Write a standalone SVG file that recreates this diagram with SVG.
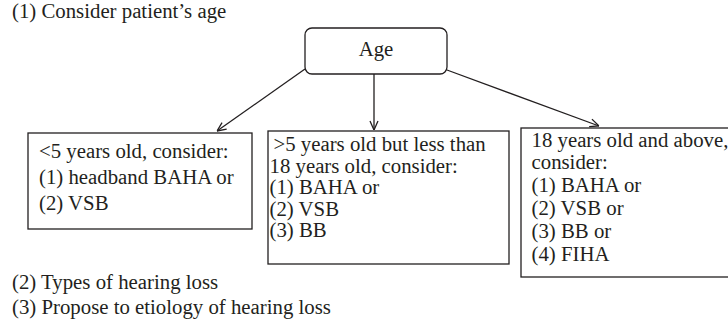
<svg xmlns="http://www.w3.org/2000/svg" width="728" height="325" viewBox="0 0 728 325">
<style>
text{font-family:"Liberation Serif","Times New Roman",serif;font-size:20.8px;fill:#231f20}
.box{fill:#fff;stroke:#231f20;stroke-width:1.3}
.conn{stroke:#231f20;stroke-width:1.3;fill:none}
</style>
<defs>
<marker id="arr" viewBox="0 0 10 10" refX="10" refY="5" markerWidth="10" markerHeight="10" markerUnits="userSpaceOnUse" orient="auto">
<path d="M1,1 L10,5 L1,9" fill="none" stroke="#231f20" stroke-width="1.3"/>
</marker>
</defs>
<rect width="728" height="325" fill="#fff"/>
<text x="12" y="18">(1) Consider patient’s age</text>
<g id="connectors">
<line class="conn" x1="305" y1="69" x2="217" y2="131" marker-end="url(#arr)"/>
<line class="conn" x1="374" y1="74" x2="374" y2="130" marker-end="url(#arr)"/>
<line class="conn" x1="447" y1="70" x2="599" y2="126" marker-end="url(#arr)"/>
</g>
<g id="age">
<rect class="box" x="305" y="28" width="142" height="46" rx="7"/>
<text x="376" y="56" text-anchor="middle">Age</text>
</g>
<g id="under5">
<rect class="box" x="28" y="133" width="224" height="96"/>
<text x="39" y="158">&lt;5 years old, consider:</text>
<text x="39" y="184">(1) headband BAHA or</text>
<text x="39" y="210">(2) VSB</text>
</g>
<g id="between">
<rect class="box" x="268" y="131" width="241" height="133"/>
<text x="273.5" y="151">&gt;5 years old but less than</text>
<text x="269.5" y="172.5">18 years old, consider:</text>
<text x="269.5" y="194">(1) BAHA or</text>
<text x="269.5" y="215.5">(2) VSB</text>
<text x="269.5" y="237">(3) BB</text>
</g>
<g id="adult">
<rect class="box" x="521" y="128" width="212" height="149"/>
<text x="531.5" y="147">18 years old and above,</text>
<text x="531.5" y="169">consider:</text>
<text x="531.5" y="192">(1) BAHA or</text>
<text x="531.5" y="215">(2) VSB or</text>
<text x="531.5" y="238">(3) BB or</text>
<text x="531.5" y="261">(4) FIHA</text>
</g>
<text x="12" y="289">(2) Types of hearing loss</text>
<text x="12" y="314">(3) Propose to etiology of hearing loss</text>
</svg>
